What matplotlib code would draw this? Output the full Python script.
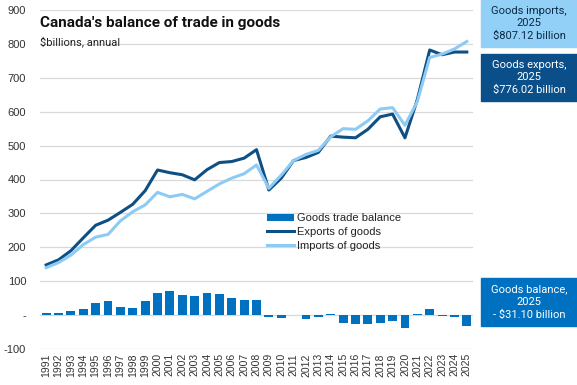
import matplotlib
matplotlib.use("Agg")
import matplotlib.pyplot as plt
import numpy as np

years = [str(y) for y in range(1991, 2026)]
exports = [148, 163, 190, 228, 265, 280, 303, 327, 367, 428, 420, 414, 399, 429, 450, 453,
           463, 488, 369, 404, 456, 465, 480, 528, 525, 523, 548, 585, 593, 523, 636, 782,
           768, 776, 776.02]
imports = [140, 155, 177, 208, 230, 238, 278, 305, 325, 362, 349, 356, 343, 365, 387, 404,
           417, 443, 374, 413, 456, 474, 486, 526, 550, 548, 573, 608, 612, 560, 630, 760,
           770, 785, 807.12]
balance = [7, 7, 13, 19, 35, 42, 25, 22, 42, 66, 70, 58, 55, 64, 62, 49, 46, 44, -5, -9,
           -1, -12, -6, 4, -23, -25, -25, -22, -18, -39, 4, 19, -3, -6, -31.10]
yticks = [-100, 0, 100, 200, 300, 400, 500, 600, 700, 800, 900]
ytick_labels = ["-100", "-", "100", "200", "300", "400", "500", "600", "700", "800", "900"]

c_bar = "#0070C0"
c_exp = "#0E4F84"
c_imp = "#8DCBF5"

plt.rcParams['font.family'] = ['Liberation Sans', 'DejaVu Sans']

fig = plt.figure(figsize=(5.77, 3.85), dpi=100)
ax = fig.add_axes([40/577, 1-349/385, (473-40)/577, (349-10)/385])

x = np.arange(len(years))
bars = ax.bar(x, balance, width=0.72, color=c_bar, label="Goods trade balance", zorder=2)
l_exp, = ax.plot(x, exports, color=c_exp, lw=2.2, label="Exports of goods", zorder=3)
l_imp, = ax.plot(x, imports, color=c_imp, lw=2.2, label="Imports of goods", zorder=3)

ax.set_xlim(-0.5, len(years) - 0.5)
ax.set_ylim(-100, 900)
ax.set_yticks(yticks)
ax.set_yticklabels(ytick_labels, fontsize=8, color="#333333")
ax.set_xticks(x)
ax.set_xticklabels(years, rotation=90, fontsize=7.5, color="#333333")
ax.tick_params(axis='both', length=0, pad=3)
ax.tick_params(axis='y', pad=10)
ax.grid(axis='y', color="#D9D9D9", lw=0.9, zorder=0)
ax.set_axisbelow(True)
for s in ax.spines.values():
    s.set_visible(False)

ax.text(0.0, 0.962, "Canada's balance of trade in goods", transform=ax.transAxes,
        fontsize=11, fontweight='bold', family=['Roboto', 'DejaVu Sans'], color="#111111", va='center')
ax.text(0.0, 0.905, "$billions, annual", transform=ax.transAxes,
        fontsize=8, family=['Roboto', 'DejaVu Sans'], color="#222222", va='center')

leg = ax.legend(handles=[bars, l_exp, l_imp], loc='upper left', bbox_to_anchor=(0.525, 0.40),
                frameon=False, fontsize=8, handlelength=2.4, labelspacing=0.35,
                handletextpad=0.3, borderaxespad=0, borderpad=0)
for t in leg.get_texts():
    t.set_color("#222222")

def box(y0, y1, color, text, tcolor="white"):
    bx = 481/577
    fig.patches.append(matplotlib.patches.Rectangle((bx, 1-y1/385), 1-bx, (y1-y0)/385,
                       transform=fig.transFigure, color=color, zorder=5))
    fig.text((bx+1)/2, 1-(y0+y1)/2/385, text, ha='center', va='center', fontsize=8,
             color=tcolor, linespacing=1.35, family=['Roboto', 'DejaVu Sans'], zorder=6)

box(0, 47, "#92D0F7", "Goods imports,\n2025\n$807.12 billion", "#0B2B45")
box(54, 101, "#0B4F8A", "Goods exports,\n2025\n$776.02 billion")
box(278, 326, "#0070C0", "Goods balance,\n2025\n- $31.10 billion")

fig.savefig("out.png", dpi=100)
